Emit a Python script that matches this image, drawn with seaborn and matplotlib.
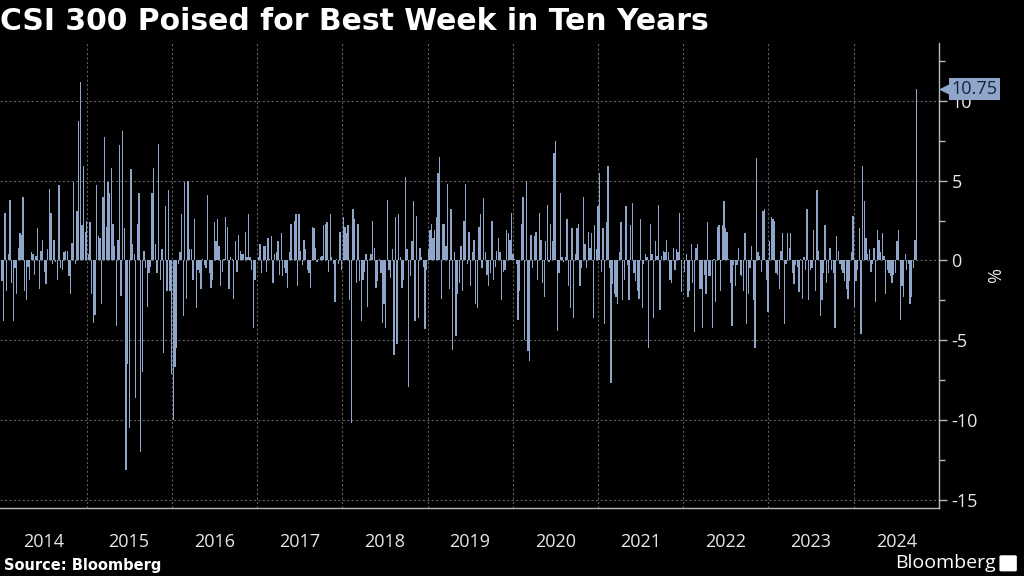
import matplotlib
matplotlib.use('Agg')
import matplotlib.pyplot as plt
import matplotlib.dates as mdates
import matplotlib.transforms as mtransforms
from matplotlib.patches import FancyBboxPatch
import numpy as np
import pandas as pd
import seaborn as sns

# weekly % change of the CSI 300, one list per calendar year
ret_2014 = [-1.3, -3.8, 3.0, -1.9, 0.4, 3.8, -1.4, -3.8, -0.5, -2.1,
            0.8, 1.7, 1.6, 4.0, -1.9, -2.5, -0.4, -1.2, 0.5, 0.4,
            -0.9, 0.3, 2.0, -1.8, 0.6, 1.3, -0.7, -1.5, 0.7, 4.5,
            3.0, -0.2, 1.3, -0.1, -1.2, 4.7, -0.5, -0.6, 0.5, 0.6,
            0.6, -1.0, -2.1, 1.1, 4.9, -0.2, 3.1, 8.7, 11.2, 2.2,
            5.9, 1.8]
ret_2015 = [2.5, 0.4, 2.4, -2.1, -3.9, -3.4, 4.7, 1.5, 1.4, -2.7,
            4.0, 7.7, 2.1, 4.9, 4.2, 5.8, 2.3, 0.9, -4.1, 1.3,
            7.2, -2.2, 8.1, 2.0, -13.1, -6.5, -10.5, 5.7, 1.0, 0.4,
            -8.6, 2.3, 4.2, -12.0, -7.0, 0.6, -0.5, -2.9, -0.8, -0.4,
            4.2, 5.8, 1.0, -0.8, 7.3, -1.2, 0.7, -5.8, 3.4, -1.9,
            4.4, -1.9]
ret_2016 = [-7.1, -10.0, -6.7, -5.5, -0.2, 0.5, 2.9, -3.5, 4.9, -2.4,
            5.0, 0.7, 0.7, -1.2, 2.6, -3.0, -0.6, -0.8, -1.8, 0.1,
            -0.3, -0.5, 4.1, -0.8, -1.7, -1.2, 2.4, 1.2, 2.6, 0.9,
            -1.6, -0.7, 0.1, 2.7, 2.1, -1.8, 0.2, 0.1, -2.4, 1.2,
            -0.7, 1.6, 0.6, 0.4, 0.4, 1.8, 0.2, 2.9, 0.2, -0.6,
            -4.2, -1.2]
ret_2017 = [0.2, 1.0, -0.8, 0.9, 0.9, -0.7, 1.4, 0.1, 1.5, -1.4,
            0.4, 0.5, 1.2, -0.9, 1.7, -1.0, -0.5, -0.8, -1.7, 0.5,
            2.3, 0.1, 2.5, 2.9, -1.6, 2.9, 0.6, -0.3, 1.3, 0.7,
            -0.6, -0.8, -1.7, 2.1, 2.0, 0.8, -0.1, 0.1, 0.2, 0.3,
            2.2, 2.3, 2.4, -0.7, 2.9, 0.2, -0.2, -2.6, 0.1, -0.2,
            1.8, -0.6]
ret_2018 = [2.7, 2.1, 1.7, 2.2, -2.5, -10.2, 3.2, 2.6, -1.4, 2.3,
            -1.3, -3.8, -1.2, -0.7, 0.4, -2.9, 0.1, 0.4, 2.5, 0.8,
            -1.7, -1.3, 0.1, -0.8, -3.9, -2.7, -4.2, 3.8, -0.6, -1.1,
            0.7, -5.9, 2.7, -5.2, 2.9, 0.2, -1.7, -1.2, 5.2, 0.7,
            -7.9, -1.0, 1.2, 3.7, -3.8, 2.8, -3.6, 0.8, 0.2, -0.4,
            -4.3, -0.6]
ret_2019 = [0.7, 1.9, 2.3, 1.4, 1.9, 2.7, 5.5, 6.5, -2.4, 2.3,
            2.3, 0.9, 4.8, -1.8, 3.2, -5.6, 0.5, -4.7, -2.1, -1.4,
            0.9, -1.9, 2.5, 4.8, -0.2, 1.8, -1.6, 0.5, 1.3, -2.7,
            -3.0, 2.1, 2.9, -0.5, 3.9, 0.5, -0.9, -1.6, -0.8, 2.5,
            -1.2, -0.4, 0.6, 1.4, 0.5, -2.5, -0.7, -0.6, 1.9, 1.7,
            1.3, 3.0]
ret_2020 = [0.4, 0.1, -0.2, -3.7, -1.9, 2.3, 4.0, -5.0, 5.0, -5.7,
            -6.3, 1.6, -0.5, 1.5, 1.8, -1.2, 3.0, 1.3, -1.4, -2.3,
            1.2, 3.5, -0.1, 2.3, 1.2, 6.7, 7.5, -4.4, -0.8, 4.2,
            0.2, -0.1, 0.2, 2.6, -1.6, -3.0, 2.0, -3.6, 0.4, 2.0,
            2.3, -1.6, -0.5, 4.0, 1.0, -0.5, 1.8, 0.8, 1.7, -3.6,
            2.2, 0.7]
ret_2021 = [3.4, 5.5, -0.7, 2.0, -4.0, 2.4, 5.9, -0.5, -7.7, -1.5,
            -2.1, -2.3, -2.7, 0.5, 2.4, -2.5, -1.2, 3.4, -0.3, -2.5,
            2.2, 3.6, -0.8, -1.3, -1.9, -2.4, 2.6, -3.0, -0.2, 0.4,
            0.2, -5.5, 2.3, 0.4, -3.6, 1.2, 0.3, 3.5, -3.1, 0.3,
            0.6, 0.5, 1.3, 0.5, -1.2, -1.4, 0.8, -0.6, 0.7, 0.5,
            3.0, -2.0]
ret_2022 = [-0.7, 0.4, -2.3, -1.9, 1.0, -1.4, -4.5, 0.8, 1.0, -1.8,
            -1.8, -4.2, -0.9, -2.1, 2.4, -1.0, -1.0, -4.2, 0.1, -2.6,
            2.1, 2.2, -1.9, 2.2, 3.7, 2.0, 1.8, 0.1, -1.4, -4.1,
            -0.3, -1.6, -0.3, 0.8, -0.9, -1.0, -1.9, 1.7, -4.0, -2.1,
            -0.5, 0.9, -2.5, -5.5, 6.4, 0.5, 0.3, -0.7, 3.1, 3.2,
            -1.2, -3.2]
ret_2023 = [1.2, 2.7, 2.6, 2.5, -0.8, -0.9, -1.8, 0.6, 1.7, -4.0,
            -0.2, 1.7, 0.8, 1.7, -0.8, -1.5, -0.3, -0.4, -2.0, 0.1,
            -2.4, 0.2, -0.6, 3.2, -2.5, -0.6, -0.5, 1.9, -1.9, 4.4,
            0.6, -3.5, -2.5, -0.8, 2.2, -1.4, -0.8, 0.8, -0.6, -0.8,
            -4.2, 1.5, 0.6, -0.2, -0.6, -0.8, -1.3, -1.8, -2.4, -1.3,
            0.5, 2.8]
ret_2024 = [-2.9, -1.3, -0.6, 2.0, -4.6, 5.9, 3.7, 1.4, 0.4, 0.7,
            -0.7, -0.2, 0.8, -2.6, 1.9, 1.3, 0.5, 1.7, 0.3, -2.1,
            -0.6, -0.8, -1.0, -1.4, -0.9, -0.8, 1.2, 1.9, -3.7, -1.6,
            -2.3, 0.4, -0.6, -0.2, -2.7, -2.3, -0.5, 1.3, 10.75]

years = list(range(2014, 2025))
yearly = [ret_2014, ret_2015, ret_2016, ret_2017, ret_2018, ret_2019,
          ret_2020, ret_2021, ret_2022, ret_2023, ret_2024]
y_ticks = [-15, -10, -5, 0, 5, 10]
y_tick_labels = ['-15', '-10', '-5', '0', '5', '10']

title = 'CSI 300 Poised for Best Week in Ten Years'
source = 'Source: Bloomberg'

bar_color = '#8fa5c9'
grid_color = '#5e5e5e'
axis_color = '#b8b8b8'
text_color = '#e6e6e6'

# one bar per Friday, starting with the first Friday of each year
frames = []
for yr, vals in zip(years, yearly):
    d = pd.date_range(f'{yr}-01-01', periods=len(vals), freq='W-FRI')
    frames.append(pd.DataFrame({'date': d, 'ret': vals}))
df = pd.concat(frames, ignore_index=True)
df['x'] = mdates.date2num(df['date'].values)

sns.set_style('dark', {'axes.facecolor': 'black', 'figure.facecolor': 'black'})
plt.rcParams['font.family'] = ['Open Sans', 'DejaVu Sans']
plt.rcParams['axes.unicode_minus'] = False

fig = plt.figure(figsize=(10.24, 5.76), dpi=100)
fig.patch.set_facecolor('black')
ax = fig.add_axes([0.0, 0.118, 0.917, 0.807])
ax.set_facecolor('black')

sns.barplot(data=df, x='x', y='ret', native_scale=True, color=bar_color,
            saturation=1, width=0.82, errorbar=None, linewidth=0, ax=ax)

ax.set_xlim(mdates.date2num(pd.Timestamp('2013-12-26')),
            mdates.date2num(pd.Timestamp('2025-01-01')))
ax.set_ylim(-15.5, 13.6)
ax.set_xlabel('')

# x axis: long separators at year boundaries, year labels mid-year
bounds = [mdates.date2num(pd.Timestamp(f'{y}-01-01')) for y in years[1:] + [2025]]
mids = [mdates.date2num(pd.Timestamp(f'{y}-07-02')) for y in years]
ax.set_xticks(bounds)
ax.set_xticklabels([''] * len(bounds))
ax.set_xticks(mids, minor=True)
ax.set_xticklabels([str(y) for y in years], minor=True)
ax.tick_params(axis='x', which='major', length=31.5, width=1, color=axis_color,
               direction='out')
ax.tick_params(axis='x', which='minor', length=0, pad=18, labelsize=13,
               labelcolor=text_color)

# y axis on the right
ax.yaxis.tick_right()
ax.yaxis.set_label_position('right')
ax.set_yticks(y_ticks)
ax.set_yticklabels(y_tick_labels)
ax.set_yticks(np.arange(-12.5, 13, 5), minor=True)
ax.tick_params(axis='y', which='major', length=6, width=1, color=axis_color,
               labelsize=13, labelcolor=text_color, pad=3)
ax.tick_params(axis='y', which='minor', length=4, width=1, color=axis_color)
ax.set_ylabel('%', rotation=270, color=text_color, fontsize=13, labelpad=16)

ax.grid(True, which='major', axis='both', color=grid_color,
        linestyle=(0, (2, 2)), linewidth=0.8)
ax.set_axisbelow(True)

for side in ['left', 'top']:
    ax.spines[side].set_visible(False)
for side in ['right', 'bottom']:
    ax.spines[side].set_visible(True)
    ax.spines[side].set_color(axis_color)
    ax.spines[side].set_linewidth(1)

# value tag for the latest week
last_value = ret_2024[-1]
trans = mtransforms.blended_transform_factory(ax.transAxes, ax.transData)
ax.plot([1.0], [last_value], marker='<', markersize=9, color=bar_color,
        transform=mtransforms.offset_copy(trans, fig=fig, x=5, y=0, units='points'),
        clip_on=False, zorder=5)
ax.annotate(f'{last_value:.2f}', xy=(1.0, last_value), xycoords=trans,
            xytext=(9, 0), textcoords='offset points', ha='left', va='center',
            fontsize=13, color='#16233b', annotation_clip=False, zorder=6,
            bbox=dict(boxstyle='square,pad=0.12', fc=bar_color, ec='none'))

fig.text(0.0, 0.962, title, ha='left', va='center', fontsize=21.5,
         fontweight='bold', color='white', family=['DejaVu Sans'])
fig.text(0.004, 0.019, source, ha='left', va='center', fontsize=10.5,
         fontweight='bold', color='white', family=['DejaVu Sans'])
fig.text(0.972, 0.022, 'Bloomberg', ha='right', va='center', fontsize=14,
         color='white', family=['Open Sans', 'DejaVu Sans'])
fig.patches.append(FancyBboxPatch((0.978, 0.01), 0.013, 0.024,
                                  boxstyle='round,pad=0.002', fc='white',
                                  ec='none', transform=fig.transFigure))

fig.savefig('out.png', dpi=100, facecolor='black')
